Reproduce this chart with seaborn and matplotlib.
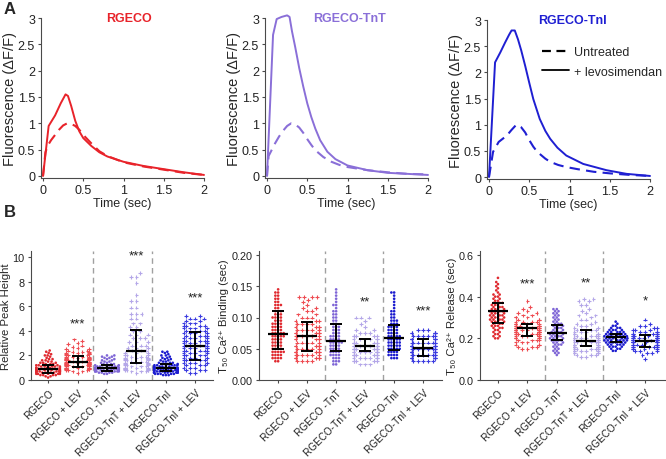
import numpy as np
import pandas as pd
import matplotlib
matplotlib.use("Agg")
import matplotlib.pyplot as plt
import seaborn as sns
from matplotlib.lines import Line2D

# ---------------- data: panel A (fluorescence transients) ----------------
RGECO_UNT_T = [0.0, 0.03, 0.06, 0.10, 0.15, 0.20, 0.25, 0.30, 0.35, 0.40, 0.45, 0.50, 0.60, 0.70, 0.80, 1.0, 1.25, 1.5, 1.75, 2.0]
RGECO_UNT_Y = [0.0, 0.45, 0.58, 0.68, 0.78, 0.88, 0.96, 1.00, 0.99, 0.95, 0.88, 0.78, 0.62, 0.47, 0.38, 0.26, 0.18, 0.12, 0.06, 0.02]
RGECO_LEV_T = [0.0, 0.07, 0.15, 0.22, 0.28, 0.31, 0.35, 0.40, 0.45, 0.50, 0.60, 0.70, 0.80, 1.0, 1.25, 1.5, 1.75, 2.0]
RGECO_LEV_Y = [0.0, 0.95, 1.15, 1.38, 1.55, 1.52, 1.33, 1.05, 0.85, 0.72, 0.57, 0.45, 0.37, 0.27, 0.19, 0.13, 0.07, 0.02]

TNT_UNT_T = [0.0, 0.02, 0.06, 0.10, 0.15, 0.20, 0.25, 0.30, 0.35, 0.40, 0.45, 0.50, 0.55, 0.60, 0.70, 0.80, 0.90, 1.0, 1.25, 1.5, 1.75, 2.0]
TNT_UNT_Y = [0.0, 0.38, 0.50, 0.62, 0.75, 0.86, 0.95, 1.00, 0.98, 0.92, 0.82, 0.70, 0.59, 0.49, 0.36, 0.27, 0.21, 0.17, 0.11, 0.07, 0.04, 0.03]
TNT_LEV_T = [0.0, 0.075, 0.12, 0.18, 0.25, 0.28, 0.31, 0.35, 0.40, 0.45, 0.50, 0.55, 0.60, 0.66, 0.75, 0.85, 1.0, 1.25, 1.5, 1.75, 2.0]
TNT_LEV_Y = [0.0, 2.68, 2.98, 3.02, 3.05, 3.02, 2.75, 2.45, 2.05, 1.70, 1.38, 1.12, 0.90, 0.68, 0.46, 0.32, 0.20, 0.11, 0.06, 0.04, 0.02]

TNI_UNT_T = [0.0, 0.05, 0.12, 0.22, 0.28, 0.34, 0.40, 0.45, 0.49, 0.55, 0.60, 0.70, 0.76, 0.86, 0.96, 1.1, 1.3, 1.5, 1.75, 2.0]
TNI_UNT_Y = [0.0, 0.48, 0.67, 0.79, 0.90, 1.00, 0.95, 0.85, 0.73, 0.58, 0.48, 0.35, 0.29, 0.23, 0.19, 0.15, 0.10, 0.07, 0.04, 0.02]
TNI_LEV_T = [0.0, 0.075, 0.14, 0.20, 0.25, 0.28, 0.32, 0.36, 0.40, 0.45, 0.50, 0.55, 0.63, 0.70, 0.76, 0.85, 0.96, 1.17, 1.46, 1.71, 2.0]
TNI_LEV_Y = [0.0, 2.19, 2.38, 2.57, 2.72, 2.80, 2.80, 2.63, 2.42, 2.12, 1.80, 1.49, 1.11, 0.88, 0.73, 0.56, 0.41, 0.25, 0.13, 0.06, 0.02]

PANEL_TITLES = ["RGECO", "RGECO-TnT", "RGECO-TnI"]
TIME_TICKS = [0, 0.5, 1, 1.5, 2]
TIME_TICKLABELS = ["0", "0.5", "1", "1.5", "2"]
FLUO_TICKS = [0, 0.5, 1, 1.5, 2, 2.5, 3]
FLUO_TICKLABELS = ["0", "0.5", "1", "1.5", "2", "2.5", "3"]

# ---------------- data: panel B (per-cell measurements) ----------------
CATS = ["RGECO", "RGECO + LEV", "RGECO -TnT", "RGECO-TnT + LEV", "RGECO-TnI", "RGECO-TnI + LEV"]

# Relative peak height: value levels and number of cells at each level
PEAK_LV = [
    [0.2, 0.3, 0.4, 0.5, 0.6, 0.7, 0.8, 0.9, 1.0, 1.1, 1.2, 1.3, 1.4, 1.5, 1.6, 1.7, 1.8, 1.9, 2.0, 2.1, 2.2, 2.3, 2.4],
    [0.6, 0.7, 0.8, 0.9, 1.0, 1.1, 1.2, 1.3, 1.4, 1.5, 1.6, 1.7, 1.8, 1.9, 2.0, 2.1, 2.2, 2.3, 2.4, 2.5, 2.6, 2.7, 2.8, 2.9, 3.0, 3.2, 3.3],
    [0.5, 0.6, 0.7, 0.8, 0.9, 1.0, 1.1, 1.2, 1.3, 1.4, 1.5, 1.6, 1.7, 1.8, 1.9, 2.0],
    [0.6, 0.7, 0.8, 0.9, 1.0, 1.1, 1.2, 1.3, 1.4, 1.5, 1.6, 1.7, 1.8, 1.9, 2.0, 2.2, 2.4, 2.6, 2.8,
     3.1, 3.4, 3.7, 4.0, 4.3, 4.6, 5.0, 5.4, 5.9, 6.4, 6.9, 7.9, 8.4, 8.7],
    [0.4, 0.5, 0.6, 0.7, 0.8, 0.9, 1.0, 1.1, 1.2, 1.3, 1.4, 1.5, 1.6, 1.7, 1.8, 1.9, 2.0, 2.1, 2.2, 2.3],
    [0.6, 0.8, 1.0, 1.2, 1.4, 1.6, 1.8, 2.0, 2.2, 2.4, 2.6, 2.8, 3.0, 3.2, 3.4, 3.6, 3.8, 4.0, 4.2, 4.4, 4.6, 4.8, 5.0, 5.2],
]
PEAK_N = [
    [1, 2, 4, 5, 6, 7, 7, 6, 5, 5, 4, 3, 3, 2, 2, 2, 1, 1, 2, 1, 1, 1, 1],
    [1, 2, 3, 4, 5, 5, 5, 5, 5, 5, 5, 4, 4, 4, 3, 3, 3, 3, 2, 2, 1, 1, 1, 1, 1, 1, 1],
    [2, 4, 7, 8, 8, 7, 5, 4, 3, 2, 2, 2, 2, 2, 2, 2],
    [1, 3, 4, 4, 4, 3, 3, 3, 3, 3, 3, 3, 3, 3, 3, 3, 3, 3, 3,
     3, 3, 3, 2, 2, 2, 2, 3, 2, 2, 1, 1, 2, 1],
    [3, 5, 7, 8, 8, 8, 6, 5, 5, 4, 3, 2, 2, 2, 2, 1, 2, 1, 1, 2],
    [2, 3, 3, 3, 4, 4, 4, 4, 4, 5, 5, 5, 5, 5, 4, 4, 4, 3, 4, 4, 3, 2, 3, 2],
]
PEAK_MED = [0.87, 1.46, 0.95, 2.36, 0.95, 2.76]
PEAK_Q1 = [0.55, 1.08, 0.76, 1.35, 0.76, 1.60]
PEAK_Q3 = [1.22, 1.95, 1.20, 4.07, 1.27, 3.93]

# T50 Ca2+ binding (sec)
BIND_LV = [
    [0.030, 0.035, 0.040, 0.045, 0.050, 0.055, 0.060, 0.065, 0.070, 0.075, 0.080, 0.085, 0.090, 0.095, 0.100, 0.105, 0.110, 0.115, 0.120, 0.125, 0.130, 0.135, 0.140, 0.145],
    [0.030, 0.035, 0.040, 0.045, 0.050, 0.055, 0.060, 0.065, 0.070, 0.075, 0.080, 0.085, 0.090, 0.095, 0.100, 0.105, 0.110, 0.115, 0.120, 0.125, 0.128, 0.133],
    [0.025, 0.030, 0.035, 0.040, 0.045, 0.050, 0.055, 0.060, 0.065, 0.070, 0.075, 0.080, 0.085, 0.090, 0.095, 0.100, 0.105, 0.110, 0.115, 0.120, 0.125, 0.130, 0.135, 0.140, 0.145],
    [0.025, 0.030, 0.035, 0.040, 0.045, 0.050, 0.055, 0.060, 0.065, 0.070, 0.075, 0.080, 0.085, 0.090, 0.095, 0.100],
    [0.035, 0.040, 0.045, 0.050, 0.055, 0.060, 0.065, 0.070, 0.075, 0.080, 0.085, 0.090, 0.095, 0.100, 0.105, 0.110, 0.115, 0.120, 0.125, 0.130, 0.135, 0.140],
    [0.030, 0.035, 0.040, 0.045, 0.050, 0.055, 0.060, 0.065, 0.070, 0.075, 0.080],
]
BIND_N = [
    [2, 4, 4, 5, 4, 4, 4, 4, 5, 5, 4, 4, 4, 3, 4, 3, 3, 2, 3, 2, 2, 2, 2, 1],
    [4, 6, 6, 6, 5, 5, 5, 5, 6, 5, 5, 4, 4, 3, 3, 2, 2, 2, 1, 1, 1, 4],
    [2, 3, 3, 4, 4, 4, 4, 5, 4, 4, 3, 3, 3, 2, 2, 2, 2, 2, 1, 2, 1, 1, 1, 1, 1],
    [3, 5, 6, 7, 8, 8, 8, 7, 6, 5, 3, 2, 1, 1, 1, 3],
    [3, 4, 4, 5, 5, 5, 5, 5, 4, 4, 4, 3, 3, 2, 2, 2, 1, 1, 1, 1, 1, 2],
    [5, 7, 8, 8, 8, 8, 8, 7, 6, 5, 3],
]
BIND_MED = [0.074, 0.070, 0.062, 0.055, 0.067, 0.052]
BIND_Q1 = [0.0496, 0.047, 0.047, 0.046, 0.0485, 0.038]
BIND_Q3 = [0.111, 0.093, 0.0896, 0.066, 0.0875, 0.066]

# T50 Ca2+ release (sec)
REL_LV = [
    [0.20, 0.21, 0.22, 0.23, 0.24, 0.25, 0.26, 0.27, 0.28, 0.29, 0.30, 0.31, 0.32, 0.33, 0.34, 0.35, 0.36, 0.37, 0.38, 0.39, 0.40, 0.41, 0.42, 0.43, 0.44, 0.45, 0.46, 0.47, 0.49],
    [0.15, 0.16, 0.17, 0.18, 0.19, 0.20, 0.21, 0.22, 0.23, 0.24, 0.25, 0.26, 0.27, 0.28, 0.29, 0.30, 0.31, 0.32, 0.33, 0.34, 0.35, 0.38],
    [0.12, 0.13, 0.14, 0.15, 0.16, 0.17, 0.18, 0.19, 0.20, 0.21, 0.22, 0.23, 0.24, 0.25, 0.26, 0.27, 0.28, 0.29, 0.30, 0.31, 0.32, 0.33, 0.34],
    [0.11, 0.12, 0.13, 0.14, 0.15, 0.16, 0.17, 0.18, 0.19, 0.20, 0.21, 0.22, 0.23, 0.24, 0.25, 0.26, 0.27, 0.28, 0.29, 0.30, 0.31, 0.32, 0.33, 0.34, 0.36, 0.38, 0.39],
    [0.14, 0.15, 0.16, 0.17, 0.18, 0.19, 0.20, 0.21, 0.22, 0.23, 0.24, 0.25, 0.26, 0.27, 0.28],
    [0.10, 0.12, 0.13, 0.14, 0.15, 0.16, 0.17, 0.18, 0.19, 0.20, 0.21, 0.22, 0.23, 0.24, 0.25, 0.26, 0.27, 0.29],
]
REL_N = [
    [2, 2, 2, 2, 2, 3, 3, 3, 4, 4, 4, 4, 4, 4, 4, 3, 3, 3, 2, 2, 2, 2, 1, 1, 1, 1, 1, 1, 1],
    [2, 3, 3, 3, 4, 5, 6, 6, 7, 7, 7, 6, 5, 4, 3, 3, 2, 2, 1, 1, 1, 1],
    [1, 2, 2, 2, 2, 3, 3, 4, 4, 4, 4, 4, 3, 3, 3, 3, 2, 2, 2, 2, 2, 2, 2],
    [2, 3, 4, 5, 6, 7, 7, 7, 6, 5, 4, 4, 3, 3, 2, 2, 2, 1, 2, 1, 2, 1, 1, 1, 2, 2, 2],
    [2, 3, 4, 5, 6, 7, 7, 7, 6, 5, 4, 3, 2, 1, 1],
    [1, 1, 2, 3, 4, 6, 7, 8, 8, 7, 6, 5, 4, 3, 2, 2, 1, 1],
]
REL_MED = [0.330, 0.250, 0.226, 0.186, 0.205, 0.189]
REL_Q1 = [0.274, 0.213, 0.194, 0.162, 0.182, 0.157]
REL_Q3 = [0.370, 0.269, 0.266, 0.242, 0.221, 0.215]

STARS = [
    [(1, 4.9, "***"), (3, 10.4, "***"), (5, 7.0, "***")],
    [(3, 0.131, "**"), (5, 0.117, "***")],
    [(1, 0.48, "***"), (3, 0.485, "**"), (5, 0.40, "*")],
]

# ---------------- style ----------------
sns.set_theme(style="ticks")
plt.rcParams["font.family"] = ["Liberation Sans", "DejaVu Sans"]
plt.rcParams["axes.edgecolor"] = "#4a4a4a"
plt.rcParams["xtick.color"] = "#4a4a4a"
plt.rcParams["ytick.color"] = "#4a4a4a"
plt.rcParams["xtick.labelcolor"] = "#222222"
plt.rcParams["ytick.labelcolor"] = "#222222"

RED = "#e8232a"
PURPLE = "#8a6fd8"
BLUE = "#1f1fd2"
LINE_COLORS = [RED, PURPLE, BLUE]
POINT_COLORS = ["#e02a30", "#ee4c52", "#7f66d6", "#b4a7e8", "#1c1ccf", "#3b3be0"]

W, H = 666, 460
fig = plt.figure(figsize=(W / 100, H / 100), dpi=100)


def fpos(x0, x1, ytop, ybot):
    return [x0 / W, 1 - ybot / H, (x1 - x0) / W, (ybot - ytop) / H]


# ---------------- panel A ----------------
top_axes = [
    fig.add_axes(fpos(40.6, 204, 19, 179.1)),
    fig.add_axes(fpos(264.6, 428, 19, 179.1)),
    fig.add_axes(fpos(486.6, 650, 21, 180.1)),
]
curves = [
    (RGECO_UNT_T, RGECO_UNT_Y, RGECO_LEV_T, RGECO_LEV_Y),
    (TNT_UNT_T, TNT_UNT_Y, TNT_LEV_T, TNT_LEV_Y),
    (TNI_UNT_T, TNI_UNT_Y, TNI_LEV_T, TNI_LEV_Y),
]
title_x = [0.54, 0.52, 0.526]
for ax, (ut, uy, lt, ly), col, title, tx in zip(top_axes, curves, LINE_COLORS, PANEL_TITLES, title_x):
    sns.lineplot(x=ut, y=uy, ax=ax, color=col, linewidth=1.5, linestyle=(0, (5, 3)), clip_on=False)
    sns.lineplot(x=lt, y=ly, ax=ax, color=col, linewidth=1.4, clip_on=False)
    ax.set_xlim(-0.03, 2.0)
    ax.set_ylim(-0.04, 3.0)
    ax.set_xticks(TIME_TICKS)
    ax.set_xticklabels(TIME_TICKLABELS)
    ax.set_yticks(FLUO_TICKS)
    ax.set_yticklabels(FLUO_TICKLABELS)
    ax.tick_params(length=2.5, width=0.8, labelsize=9, pad=1.5)
    ax.set_xlabel("Time (sec)", fontsize=9, labelpad=1)
    ax.set_ylabel("Fluorescence (\u0394F/F)", fontsize=10.5, labelpad=0.5)
    sns.despine(ax=ax)
    for s in ("left", "bottom"):
        ax.spines[s].set_linewidth(0.8)
    ax.text(tx, 1.0, title, transform=ax.transAxes, ha="center", va="center",
            color=col, fontsize=9, fontweight="bold")

handles = [Line2D([], [], color="black", linewidth=1.6, linestyle=(0, (4, 2.5))),
           Line2D([], [], color="black", linewidth=1.3)]
top_axes[2].legend(handles, ["Untreated", "+ levosimendan"], loc="upper left",
                   bbox_to_anchor=(0.30, 0.875), frameon=False, fontsize=9,
                   handlelength=2.2, handletextpad=0.4, borderpad=0, labelspacing=0.6)

# ---------------- panel B ----------------
bot_specs = [
    (fpos(31, 213, 252, 381), (-0.58, 5.6), (0, 10.5), PEAK_LV, PEAK_N, PEAK_MED, PEAK_Q1, PEAK_Q3,
     [0, 2, 4, 6, 8, 10], ["0", "2", "4", "6", "8", "10"], "Relative Peak Height", (1.53, 3.54)),
    (fpos(259, 442, 252, 381), (-0.66, 5.65), (0, 0.2064), BIND_LV, BIND_N, BIND_MED, BIND_Q1, BIND_Q3,
     [0, 0.05, 0.10, 0.15, 0.20], ["0.00", "0.05", "0.10", "0.15", "0.20"],
     "T\u2085\u2080 Ca\u00b2\u207a Binding (sec)", (1.62, 3.62)),
    (fpos(480, 666, 252, 381), (-0.61, 5.71), (0, 0.619), REL_LV, REL_N, REL_MED, REL_Q1, REL_Q3,
     [0, 0.2, 0.4, 0.6], ["0.0", "0.2", "0.4", "0.6"],
     "T\u2085\u2080 Ca\u00b2\u207a Release (sec)", (1.6, 3.57)),
]
palette = dict(zip(CATS, POINT_COLORS))

for (pos, xlim, ylim, lvs, ns, med, q1, q3, yt, ytl, ylab, seps), stars in zip(bot_specs, STARS):
    ax = fig.add_axes(pos)
    rows = []
    for cat, lv, n in zip(CATS, lvs, ns):
        for v, c in zip(lv, n):
            rows += [(cat, v)] * c
    df = pd.DataFrame(rows, columns=["group", "value"])
    untreated = df[df["group"].isin(CATS[0::2])]
    treated = df[df["group"].isin(CATS[1::2])]
    sns.swarmplot(data=untreated, x="group", y="value", hue="group", order=CATS, hue_order=CATS,
                  palette=palette, marker="o", size=1.9, linewidth=0, legend=False,
                  warn_thresh=1, ax=ax)
    sns.swarmplot(data=treated, x="group", y="value", hue="group", order=CATS, hue_order=CATS,
                  palette=palette, marker="+", size=2.7, linewidth=0.8, legend=False,
                  warn_thresh=1, ax=ax)
    med = np.array(med)
    xs = np.arange(len(CATS))
    ax.errorbar(xs, med, yerr=[med - np.array(q1), np.array(q3) - med], fmt="none",
                ecolor="black", elinewidth=1.4, capsize=4.3, capthick=1.4, zorder=5)
    ax.plot(xs, med, linestyle="none", marker="_", markersize=15, markeredgewidth=1.6,
            color="black", zorder=6)
    for sx in seps:
        ax.axvline(sx, color="#a0a0a0", linewidth=1.0, linestyle=(0, (4, 3)), zorder=0)
    for px, py, s in stars:
        ax.annotate(s, (px, py), xytext=(0, -2.5), textcoords="offset points",
                    ha="center", va="center", fontsize=9.5, color="#222222")
    ax.set_xlim(*xlim)
    ax.set_ylim(*ylim)
    ax.set_yticks(yt)
    ax.set_yticklabels(ytl)
    ax.set_xticks(xs)
    ax.set_xticklabels(CATS, rotation=45, ha="right", rotation_mode="anchor", fontsize=7.2)
    ax.tick_params(axis="y", length=2.5, width=0.8, labelsize=7.8, pad=2)
    ax.tick_params(axis="x", length=2.5, width=0.8, pad=3)
    ax.set_xlabel("")
    ax.set_ylabel(ylab, fontsize=8.2, labelpad=1.5)
    sns.despine(ax=ax)
    for s in ("left", "bottom"):
        ax.spines[s].set_linewidth(0.8)

fig.text(4 / W, 1 - 9 / H, "A", fontsize=12, fontweight="bold", va="center", ha="left")
fig.text(4 / W, 1 - 213 / H, "B", fontsize=12, fontweight="bold", va="center", ha="left")

fig.savefig("out.png", dpi=100)
